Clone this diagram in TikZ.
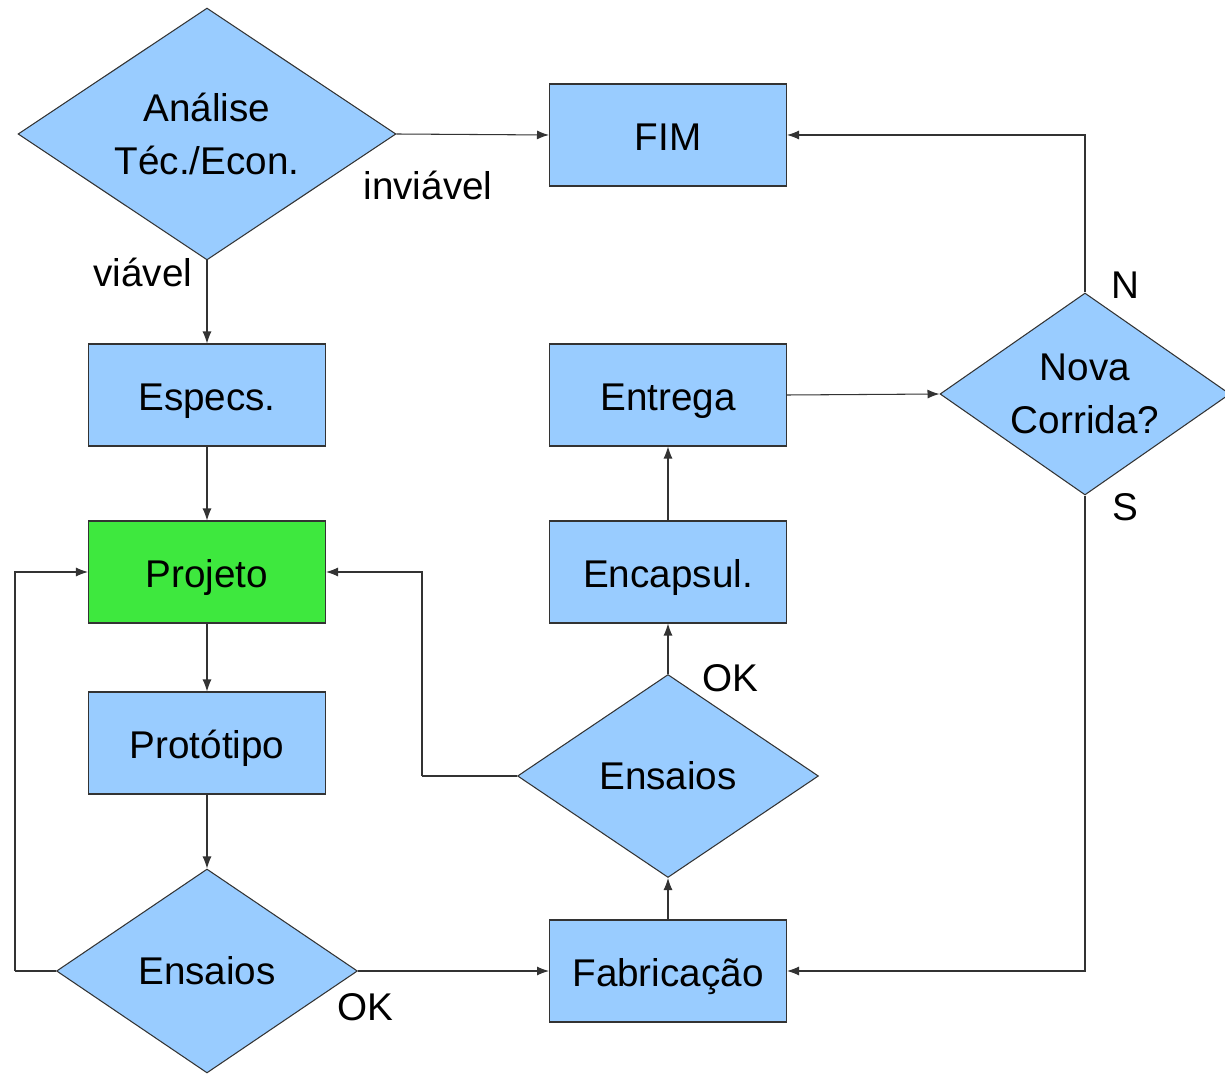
\documentclass[tikz,border=0pt]{standalone}
\usepackage{fontspec}
\setmainfont{Liberation Sans}
\usepackage{tikz}
\usetikzlibrary{shapes.geometric,arrows.meta,positioning}
\definecolor{boxblue}{HTML}{99CCFF}
\definecolor{boxgreen}{HTML}{3EE83E}
\definecolor{linegray}{HTML}{333333}

\tikzset{
  stepbox/.style={draw=linegray, line width=0.6pt, fill=boxblue, rectangle,
    minimum width=4.74cm, minimum height=2.04cm, inner sep=0pt,
    text height=18pt, text depth=0pt,
    font=\fontsize{22}{29}\selectfont},
  decide/.style={draw=linegray, line width=0.6pt, fill=boxblue, diamond,
    inner sep=-0.6cm, align=center, font=\fontsize{22}{30}\selectfont},
  tag/.style={font=\fontsize{22}{29}\selectfont, inner sep=0pt},
  arr/.style={draw=linegray, line width=0.6pt, -{Latex[length=2.4mm,width=1.8mm]}},
  plain/.style={draw=linegray, line width=0.6pt}
}

\begin{document}
\begin{tikzpicture}[x=0.02cm,y=-0.02cm]
          % Fix the page size
          \useasboundingbox (0,0) rectangle (1225,1074);
          % Left column
          \node[decide, minimum width=7.56cm, minimum height=5.04cm] (anal) at (207,134) {Análise\\Téc./Econ.};
          \node[stepbox] (espec) at (207,395) {Especs.};
          \node[stepbox, fill=boxgreen] (proj) at (207,572) {Projeto};
          \node[stepbox] (proto) at (207,743) {Protótipo};
          \node[decide, minimum width=6.02cm, minimum height=4.08cm] (ensA) at (207,971) {Ensaios};
          % Middle column
          \node[stepbox] (fim) at (668,135) {FIM};
          \node[stepbox] (entr) at (668,395) {Entrega};
          \node[stepbox] (encap) at (668,572) {Encapsul.};
          \node[decide, minimum width=6.02cm, minimum height=4.06cm] (ensB) at (668,776) {Ensaios};
          \node[stepbox] (fab) at (668,971) {Fabricação};
          % Right decision
          \node[decide, minimum width=5.8cm, minimum height=4.04cm] (nova) at (1085,394) {Nova\\Corrida?};
          % Bends of the return lines
          \coordinate (backL) at (15,971);
          \coordinate (backM) at (422,776);
          % Connectors
          \draw[arr] (anal.east) -- (fim.west);
          \draw[arr] (anal.south) -- (espec.north);
          \draw[arr] (espec) -- (proj);
          \draw[arr] (proj) -- (proto);
          \draw[arr] (proto.south) -- (ensA.north);
          \draw[plain] (ensA.west) -- (backL);
          \draw[arr] (backL) |- (proj.west);
          \draw[arr] (ensA.east) -- (fab.west);
          \draw[arr] (fab.north) -- (ensB.south);
          \draw[arr] (ensB.north) -- (encap.south);
          \draw[plain] (ensB.west) -- (backM);
          \draw[arr] (backM) |- (proj.east);
          \draw[arr] (encap) -- (entr);
          \draw[arr] (entr.east) -- (nova.west);
          \draw[arr] (nova.north) |- (fim.east);
          \draw[arr] (nova.south) |- (fab.east);
          % Labels
          \node[tag] (lbinv) at (428,185) {inviável};
          \node[tag] (lbvia) at (143,272) {viável};
          \node[tag] (lbokA) at (365,1007) {OK};
          \node[tag] (lbokB) at (730,678) {OK};
          \node[tag] (lbn) at (1125,285) {N};
          \node[tag] (lbs) at (1125,507) {S};
        \end{tikzpicture}
\end{document}
